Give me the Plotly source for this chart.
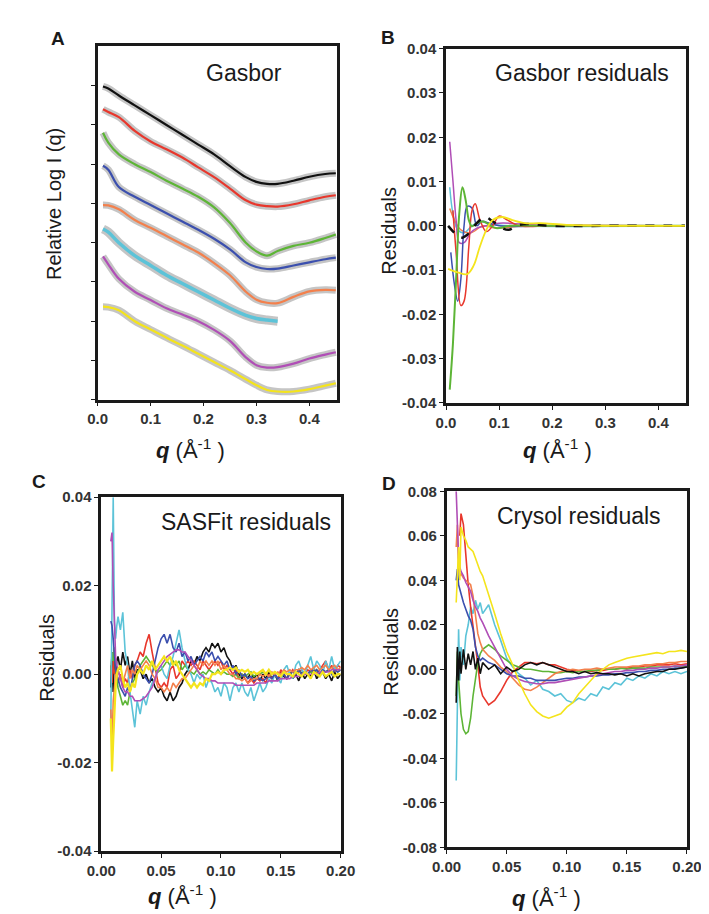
import plotly.graph_objects as go

# ---------------- data ----------------
# Panel A: relative log I(q) profiles (offset, arbitrary units)
a_q = [0.01, 0.02, 0.04, 0.07, 0.10, 0.13, 0.16, 0.19, 0.22, 0.25, 0.28, 0.30, 0.32, 0.34, 0.37, 0.40, 0.43, 0.45]
a_black = [7.98, 7.93, 7.75, 7.5, 7.25, 7.0, 6.75, 6.5, 6.25, 5.95, 5.67, 5.55, 5.5, 5.5, 5.58, 5.68, 5.75, 5.77]
a_red = [7.4, 7.33, 7.2, 6.85, 6.58, 6.38, 6.17, 5.92, 5.67, 5.38, 5.08, 4.97, 4.93, 4.92, 4.98, 5.08, 5.17, 5.21]
a_green = [6.8, 6.55, 6.25, 6.0, 5.8, 5.58, 5.38, 5.17, 4.9, 4.5, 4.0, 3.78, 3.67, 3.79, 3.92, 4.0, 4.12, 4.21]
a_blue = [5.96, 5.86, 5.42, 5.17, 4.96, 4.75, 4.54, 4.33, 4.1, 3.83, 3.5, 3.38, 3.33, 3.34, 3.42, 3.5, 3.58, 3.62]
a_orange = [4.96, 4.95, 4.85, 4.58, 4.38, 4.17, 3.96, 3.75, 3.48, 3.17, 2.75, 2.55, 2.47, 2.46, 2.62, 2.76, 2.8, 2.79]
a_cyan = [4.35, 4.27, 4.0, 3.67, 3.42, 3.17, 2.96, 2.75, 2.54, 2.33, 2.15, 2.07, 2.03, 2.0, None, None, None, None]
a_magenta = [3.65, 3.45, 3.08, 2.75, 2.54, 2.33, 2.17, 2.0, 1.78, 1.5, 1.08, 0.88, 0.82, 0.83, 0.92, 1.05, 1.15, 1.21]
a_yellow = [2.37, 2.36, 2.28, 2.0, 1.79, 1.58, 1.38, 1.17, 0.96, 0.75, 0.52, 0.37, 0.25, 0.21, 0.21, 0.27, 0.36, 0.42]

# Panel B: Gasbor residuals
b_q_green = [0.007, 0.013, 0.019, 0.025, 0.031, 0.037, 0.043, 0.049, 0.058, 0.070, 0.094, 0.120, 0.200, 0.300, 0.450]
b_green = [-0.037, -0.0267, -0.012, 0.0028, 0.0087, 0.0058, 0.0013, -0.0001, 0.0006, 0.001, -0.0005, 0.0, 0.0, 0.0, 0.0]
b_q_red = [0.013, 0.019, 0.028, 0.034, 0.043, 0.049, 0.055, 0.064, 0.076, 0.088, 0.100, 0.116, 0.137, 0.200, 0.450]
b_red = [0.0035, -0.006, -0.018, -0.017, -0.0046, 0.0035, 0.005, 0.0013, -0.0013, 0.0, 0.0022, 0.0013, 0.0, 0.0, 0.0]
b_q_blue = [0.009, 0.016, 0.022, 0.028, 0.034, 0.040, 0.049, 0.058, 0.067, 0.082, 0.100, 0.200, 0.450]
b_blue = [-0.006, -0.0134, -0.017, -0.012, 0.0, 0.0044, 0.004, 0.0, 0.001, 0.0006, 0.0, 0.0, 0.0]
b_q_magenta = [0.007, 0.013, 0.019, 0.025, 0.034, 0.046, 0.058, 0.076, 0.100, 0.200, 0.450]
b_magenta = [0.019, 0.0102, 0.0013, -0.0038, -0.0038, -0.0016, -0.0005, 0.0, 0.0006, 0.0, 0.0]
b_q_cyan = [0.007, 0.013, 0.022, 0.034, 0.049, 0.064, 0.082, 0.120, 0.450]
b_cyan = [0.0087, 0.0028, -0.0009, -0.0016, 0.0, 0.001, 0.0004, 0.0, 0.0]
b_q_orange = [0.007, 0.016, 0.028, 0.046, 0.070, 0.094, 0.150, 0.450]
b_orange = [0.0039, 0.0013, -0.0009, -0.0016, 0.0, -0.0005, 0.0, 0.0]
b_q_black = [0.004, 0.016, 0.028, 0.040, 0.058, 0.073, 0.088, 0.106, 0.118, 0.137, 0.155, 0.200, 0.300, 0.450]
b_black = [0.0, -0.0016, -0.0027, -0.002, 0.0006, 0.002, 0.001, -0.0005, -0.0009, 0.0002, 0.0004, 0.0, 0.0, 0.0]
b_q_yellow = [0.004, 0.022, 0.040, 0.052, 0.064, 0.076, 0.088, 0.106, 0.125, 0.149, 0.178, 0.227, 0.300, 0.450]
b_yellow = [-0.0097, -0.0105, -0.0109, -0.009, -0.0046, -0.0009, 0.0013, 0.002, 0.0013, 0.0006, 0.0006, 0.0002, 0.0, 0.0]

# Panel C: SASFit residuals (dense, noisy)
q_c = [0.008, 0.009, 0.010, 0.011, 0.012, 0.013, 0.014, 0.016, 0.018, 0.020, 0.022, 0.024, 0.026, 0.028, 0.030,
       0.0325, 0.035, 0.0375, 0.040, 0.0425, 0.045, 0.0475, 0.050, 0.0525, 0.055,
       0.0575, 0.060, 0.0625, 0.065, 0.0675, 0.070, 0.0725, 0.075, 0.0775, 0.080,
       0.0825, 0.085, 0.0875, 0.090, 0.0925, 0.095, 0.0975, 0.100, 0.1025, 0.105,
       0.1075, 0.110, 0.1125, 0.115, 0.1175, 0.120, 0.1225, 0.125, 0.1275, 0.130,
       0.1325, 0.135, 0.1375, 0.140, 0.1425, 0.145, 0.1475, 0.150, 0.1525, 0.155,
       0.1575, 0.160, 0.1625, 0.165, 0.1675, 0.170, 0.1725, 0.175, 0.1775, 0.180,
       0.1825, 0.185, 0.1875, 0.190, 0.1925, 0.195, 0.1975, 0.200]
c_black = [-0.003, 0.005, -0.004, 0.006, 0.000, 0.003, 0.004, 0.001, 0.005, 0.002, 0.004, 0.000, 0.003, -0.001, 0.001,
           0.001, -0.001, 0.000, -0.002, -0.001, -0.003, -0.004, -0.003, -0.005, -0.006,
           -0.004, -0.006, -0.005, -0.003, -0.002, 0.000, 0.001, 0.003, 0.002, 0.004,
           0.003, 0.005, 0.006, 0.005, 0.007, 0.006, 0.007, 0.005, 0.006, 0.004,
           0.003, 0.001, 0.002, 0.000, -0.001, 0.000, -0.001, 0.0005, -0.001, 0.000,
           -0.0015, 0.000, -0.001, 0.0005, -0.001, 0.000, -0.0015, 0.0005, -0.0005, -0.001,
           0.0005, -0.001, 0.000, -0.0015, 0.0005, -0.001, 0.000, -0.0005, 0.001, -0.001,
           0.000, 0.0005, -0.001, 0.000, -0.0015, 0.0005, -0.001, 0.000]
c_red = [0.002, -0.002, 0.003, 0.000, 0.001, -0.001, -0.002, 0.000, -0.003, -0.001, -0.002, 0.001, -0.001, 0.002, 0.003,
         0.005, 0.004, 0.007, 0.009, 0.005, 0.001, -0.002, -0.003, -0.002, -0.003,
         0.001, 0.002, -0.001, 0.000, 0.003, 0.002, 0.003, 0.002, 0.003, 0.002,
         0.001, 0.003, 0.002, 0.001, 0.002, 0.003, 0.002, 0.003, 0.001, 0.002,
         0.001, 0.000, 0.001, -0.001, 0.000, -0.001, -0.002, -0.001, -0.002, -0.001,
         -0.0015, -0.001, -0.002, 0.000, -0.001, 0.000, -0.001, 0.001, 0.000, -0.001,
         0.000, 0.001, 0.000, 0.0005, 0.001, 0.000, 0.001, 0.0005, 0.0015, 0.000,
         0.001, 0.002, 0.003, 0.001, 0.002, 0.0005, 0.002, 0.0015]
c_green = [0.000, 0.005, 0.003, 0.006, 0.001, -0.001, -0.003, -0.005, -0.007, -0.006, -0.007, -0.004, -0.002, -0.001, 0.000,
           0.002, 0.003, 0.004, 0.003, 0.002, 0.001, 0.0005, 0.001, 0.002, 0.003,
           0.002, 0.003, 0.002, 0.003, 0.001, 0.002, 0.001, 0.0005, 0.000, 0.001,
           0.000, 0.0005, 0.000, 0.001, 0.0005, 0.000, 0.001, 0.000, 0.0005, 0.000,
           0.000, -0.0005, 0.000, -0.001, 0.000, -0.0005, 0.000, 0.0005, -0.0005, 0.000,
           0.000, 0.0005, 0.000, -0.0005, 0.000, 0.0005, 0.000, 0.000, 0.0005, 0.000,
           0.000, 0.0005, 0.000, 0.001, 0.000, 0.0005, 0.000, 0.0005, 0.000, 0.001,
           0.000, 0.001, 0.0005, 0.001, 0.000, 0.001, 0.0005, 0.001]
c_blue = [0.012, 0.011, 0.008, 0.004, 0.001, 0.000, -0.001, -0.003, -0.004, -0.005, -0.003, -0.004, -0.001, 0.002, 0.003,
          0.002, 0.000, -0.001, -0.002, 0.000, 0.003, 0.006, 0.008, 0.009, 0.007,
          0.009, 0.006, 0.005, 0.007, 0.004, 0.005, 0.003, 0.004, 0.002, 0.003,
          0.004, 0.003, 0.005, 0.004, 0.005, 0.003, 0.004, 0.003, 0.002, 0.003,
          0.001, 0.002, 0.000, 0.001, -0.0005, 0.000, -0.001, -0.0005, -0.0015, -0.001,
          -0.001, -0.0015, -0.001, -0.0005, -0.001, 0.000, -0.001, -0.0005, 0.000, -0.001,
          0.000, 0.0005, 0.000, 0.001, 0.000, 0.0005, 0.000, 0.001, 0.0005, 0.001,
          0.000, 0.001, 0.0005, 0.001, 0.000, 0.001, 0.0005, 0.001]
c_orange = [-0.008, -0.016, -0.006, -0.002, 0.000, -0.001, 0.001, -0.001, -0.002, 0.000, 0.002, -0.001, 0.001, 0.000, 0.002,
            0.001, 0.002, 0.003, 0.002, 0.000, -0.001, -0.003, -0.003, -0.004, -0.003,
            -0.004, -0.002, -0.003, -0.002, -0.001, -0.001, 0.000, 0.001, 0.002, 0.001,
            0.003, 0.002, 0.003, 0.002, 0.003, 0.002, 0.003, 0.001, 0.002, 0.001,
            0.000, 0.000, -0.001, -0.001, -0.0015, -0.001, -0.002, -0.0015, -0.001, -0.001,
            0.000, -0.0005, 0.000, -0.0005, 0.0005, 0.000, 0.0005, 0.000, 0.001, 0.0005,
            0.001, 0.0005, 0.001, 0.001, 0.0015, 0.001, 0.002, 0.001, 0.0015, 0.002,
            0.001, 0.0015, 0.002, 0.001, 0.0015, 0.002, 0.001, 0.0015]
c_cyan = [-0.010, 0.020, 0.040, 0.012, 0.008, 0.011, 0.013, 0.010, 0.014, 0.005, 0.002, -0.004, -0.008, -0.012, -0.006,
          -0.009, -0.005, -0.007, -0.004, -0.002, -0.001, 0.001, 0.002, 0.000, -0.001,
          0.002, 0.004, 0.007, 0.010, 0.006, 0.003, 0.001, 0.000, -0.002, 0.000,
          -0.001, 0.000, -0.003, -0.001, -0.002, -0.004, -0.003, -0.005, -0.002, -0.003,
          -0.006, -0.003, -0.002, -0.004, -0.002, -0.004, -0.005, -0.003, -0.006, -0.004,
          -0.002, -0.004, -0.003, -0.001, -0.002, 0.000, -0.001, -0.002, 0.001, 0.002,
          0.000, -0.001, 0.002, 0.003, 0.001, 0.000, 0.002, 0.004, 0.001, 0.003,
          0.002, 0.000, 0.003, 0.001, 0.004, 0.001, 0.002, 0.003]
c_magenta = [0.030, 0.032, 0.020, 0.010, 0.004, 0.002, 0.001, -0.001, -0.003, -0.004, -0.004, -0.005, -0.005, -0.006, -0.006,
             -0.006, -0.0055, -0.005, -0.004, -0.003, -0.001, 0.001, 0.002, 0.003, 0.004,
             0.0045, 0.005, 0.0055, 0.0055, 0.005, 0.005, 0.004, 0.003, 0.002, 0.001,
             0.000, -0.0005, -0.001, -0.001, -0.0015, -0.0015, -0.002, -0.002, -0.002, -0.002,
             -0.002, -0.002, -0.0025, -0.0025, -0.0025, -0.0025, -0.0025, -0.0025, -0.0025, -0.002,
             -0.002, -0.002, -0.002, -0.0015, -0.0015, -0.0015, -0.0015, -0.001, -0.001, -0.001,
             -0.001, -0.0005, -0.0005, -0.0005, 0.000, 0.000, 0.000, 0.000, 0.000, 0.000,
             0.0005, 0.0005, 0.0005, 0.0005, 0.001, 0.001, 0.001, 0.001]
c_yellow = [-0.010, -0.022, -0.015, -0.008, -0.003, 0.000, 0.001, 0.002, -0.001, -0.003, -0.002, -0.004, -0.002, -0.003, 0.000,
            0.001, 0.000, 0.002, 0.001, 0.003, 0.001, 0.002, 0.003, 0.004, 0.003,
            0.004, 0.002, 0.003, 0.001, 0.000, -0.001, -0.002, -0.003, -0.002, -0.003,
            -0.002, -0.0025, -0.001, -0.0015, 0.000, 0.000, 0.0005, 0.000, 0.001, 0.001,
            0.0015, 0.001, 0.0015, 0.0005, 0.001, 0.0005, 0.001, 0.000, 0.0005, 0.000,
            0.0005, 0.001, 0.000, 0.001, 0.000, 0.0005, 0.000, -0.0005, 0.0005, 0.000,
            0.000, -0.0005, 0.0005, 0.000, -0.0005, 0.0005, 0.000, -0.001, 0.0005, 0.000,
            -0.0005, 0.0005, -0.0005, 0.000, 0.0005, -0.0005, 0.000, 0.000]

# Panel D: Crysol residuals
q_d = [0.008, 0.009, 0.010, 0.011, 0.012, 0.014, 0.016, 0.018, 0.020, 0.022, 0.024, 0.026, 0.028, 0.030,
       0.035, 0.040, 0.045, 0.050, 0.055, 0.060, 0.065, 0.070, 0.075, 0.080,
       0.085, 0.090, 0.095, 0.100, 0.105, 0.110, 0.115, 0.120, 0.125, 0.130,
       0.135, 0.140, 0.145, 0.150, 0.155, 0.160, 0.165, 0.170, 0.175, 0.180,
       0.185, 0.190, 0.195, 0.200]
d_black = [-0.015, 0.010, -0.005, 0.008, -0.002, 0.009, 0.000, 0.007, 0.002, 0.008, 0.000, 0.005, -0.002, 0.003,
           0.000, 0.002, -0.002, 0.001, -0.001, 0.000, 0.002, 0.003, 0.002, 0.003,
           0.002, 0.001, 0.000, -0.001, -0.001, -0.002, -0.001, -0.002, -0.0015, -0.002,
           -0.002, -0.0025, -0.002, -0.003, -0.002, -0.003, -0.002, -0.0015, -0.001, -0.001,
           0.000, 0.000, 0.0005, 0.001]
d_red = [None, None, None, 0.060, 0.070, 0.065, 0.050, 0.038, 0.028, 0.020, 0.012, 0.002, -0.008, -0.012,
         -0.016, -0.014, -0.010, -0.005, -0.001, 0.001, 0.003, 0.003, 0.0025, 0.003,
         0.002, 0.002, 0.001, 0.000, -0.0005, -0.001, -0.001, -0.001, -0.0005, -0.0005,
         0.000, 0.000, 0.0005, 0.0005, 0.001, 0.001, 0.0015, 0.0015, 0.002, 0.002,
         0.002, 0.0025, 0.002, 0.0025]
d_green = [-0.012, 0.008, -0.005, -0.015, -0.020, -0.027, -0.029, -0.028, -0.022, -0.012, -0.004, 0.003, 0.007, 0.009,
           0.011, 0.009, 0.006, 0.004, 0.002, 0.001, 0.000, 0.000, -0.0005, -0.001,
           -0.001, -0.0015, -0.0015, -0.001, -0.0015, -0.001, -0.001, -0.0005, -0.0005, 0.000,
           0.000, 0.000, 0.0005, 0.000, 0.0005, 0.0005, 0.0005, 0.001, 0.001, 0.001,
           0.001, 0.0015, 0.001, 0.0015]
d_blue = [0.040, 0.045, 0.038, 0.036, 0.033, 0.030, 0.027, 0.024, 0.022, 0.018, 0.010, 0.006, 0.004, 0.005,
          0.003, 0.002, 0.000, -0.002, -0.003, -0.003, -0.004, -0.004, -0.005, -0.005,
          -0.005, -0.005, -0.0045, -0.004, -0.004, -0.0035, -0.0035, -0.003, -0.003, -0.0025,
          -0.0025, -0.002, -0.002, -0.0015, -0.0015, -0.001, -0.001, -0.0005, -0.0005, 0.000,
          0.000, 0.0005, 0.0005, 0.001]
d_orange = [0.055, 0.065, 0.045, 0.042, 0.043, 0.041, 0.040, 0.039, 0.038, 0.033, 0.025, 0.016, 0.012, 0.009,
            0.006, 0.004, 0.001, -0.001, -0.004, -0.007, -0.009, -0.0095, -0.008, -0.006,
            -0.004, -0.002, -0.001, -0.0005, 0.000, -0.0005, 0.000, 0.000, 0.0005, 0.000,
            0.0005, 0.001, 0.001, 0.001, 0.0015, 0.0015, 0.002, 0.002, 0.0025, 0.0025,
            0.003, 0.003, 0.0035, 0.0035]
d_cyan = [-0.050, -0.020, 0.018, -0.005, 0.010, 0.002, 0.015, 0.020, 0.028, 0.025, 0.031, 0.027, 0.030, 0.025,
          0.029, 0.020, 0.013, 0.005, 0.001, -0.002, -0.004, -0.007, -0.005, -0.009,
          -0.010, -0.012, -0.011, -0.014, -0.015, -0.013, -0.014, -0.011, -0.012, -0.008,
          -0.009, -0.006, -0.007, -0.004, -0.005, -0.003, -0.004, -0.002, -0.003, -0.001,
          -0.002, -0.001, -0.002, -0.001]
d_magenta = [0.080, 0.062, 0.050, 0.046, 0.044, 0.042, 0.039, 0.037, 0.035, 0.031, 0.028, 0.026, 0.023, 0.021,
             0.015, 0.010, 0.005, 0.000, -0.003, -0.0045, -0.0055, -0.006, -0.0065, -0.0065,
             -0.006, -0.006, -0.0055, -0.005, -0.0045, -0.004, -0.0035, -0.003, -0.0025, -0.002,
             -0.0015, -0.001, -0.001, -0.0005, -0.0005, 0.000, 0.000, 0.0005, 0.0005, 0.001,
             0.001, 0.0015, 0.0015, 0.002]
d_yellow = [0.030, 0.045, 0.055, 0.040, 0.064, 0.060, 0.058, 0.055, 0.054, 0.053, 0.050, 0.047, 0.044, 0.042,
            0.034, 0.025, 0.016, 0.008, 0.002, -0.005, -0.011, -0.016, -0.019, -0.021,
            -0.022, -0.021, -0.020, -0.017, -0.015, -0.011, -0.008, -0.005, -0.002, 0.000,
            0.002, 0.003, 0.004, 0.005, 0.0055, 0.006, 0.0065, 0.007, 0.0075, 0.007,
            0.008, 0.008, 0.0085, 0.008]

# tick labels
ticks_a_x = [0.0, 0.1, 0.2, 0.3, 0.4]
ticks_a_x_text = ["0.0", "0.1", "0.2", "0.3", "0.4"]
ticks_a_y = [0, 1, 2, 3, 4, 5, 6, 7, 8]
ticks_b_y = [-0.04, -0.03, -0.02, -0.01, 0.0, 0.01, 0.02, 0.03, 0.04]
ticks_b_y_text = ["-0.04", "-0.03", "-0.02", "-0.01", "0.00", "0.01", "0.02", "0.03", "0.04"]
ticks_cd_x = [0.0, 0.05, 0.10, 0.15, 0.20]
ticks_cd_x_text = ["0.00", "0.05", "0.10", "0.15", "0.20"]
ticks_c_y = [-0.04, -0.02, 0.0, 0.02, 0.04]
ticks_c_y_text = ["-0.04", "-0.02", "0.00", "0.02", "0.04"]
ticks_d_y = [-0.08, -0.06, -0.04, -0.02, 0.0, 0.02, 0.04, 0.06, 0.08]
ticks_d_y_text = ["-0.08", "-0.06", "-0.04", "-0.02", "0.00", "0.02", "0.04", "0.06", "0.08"]

COL = {
    "black": "#111111",
    "red": "#e8372c",
    "green": "#5db536",
    "blue": "#3b4fae",
    "orange": "#f3804c",
    "cyan": "#5cc3d8",
    "magenta": "#b04eb6",
    "yellow": "#f4e41c",
}

FONT = "Liberation Sans"
W, H = 709, 914

fig = go.Figure()


def line(q, v, color, ax, width=1.5, dash=None, shape="linear"):
    fig.add_trace(go.Scatter(
        x=q, y=v, mode="lines", xaxis="x" + ax, yaxis="y" + ax,
        line=dict(color=color, width=width, dash=dash, shape=shape),
        showlegend=False, hoverinfo="skip", connectgaps=False,
    ))


# Panel A: grey halo + coloured profile
a_curves = [(a_black, "black"), (a_red, "red"), (a_green, "green"), (a_blue, "blue"),
            (a_orange, "orange"), (a_cyan, "cyan"), (a_magenta, "magenta"), (a_yellow, "yellow")]
for vals, c in a_curves:
    halo_w = 9 if c == "cyan" else 7
    line(a_q, vals, "rgba(150,150,150,0.55)", "", width=halo_w, shape="spline")
    line(a_q, vals, COL[c], "", width=2.2 if c != "cyan" else 3.5, shape="spline")

# Panel B
line(b_q_cyan, b_cyan, COL["cyan"], "2", shape="spline")
line(b_q_orange, b_orange, COL["orange"], "2", shape="spline")
line(b_q_magenta, b_magenta, COL["magenta"], "2", shape="spline")
line(b_q_blue, b_blue, COL["blue"], "2", shape="spline")
line(b_q_red, b_red, COL["red"], "2", shape="spline")
line(b_q_green, b_green, COL["green"], "2", width=2, shape="spline")
line(b_q_black, b_black, COL["black"], "2", width=2.5, dash="dash", shape="spline")
line(b_q_yellow, b_yellow, COL["yellow"], "2", width=1.8, shape="spline")

# Panel C
for vals, c in [(c_black, "black"), (c_red, "red"), (c_green, "green"), (c_cyan, "cyan"),
                (c_blue, "blue"), (c_orange, "orange"), (c_magenta, "magenta"), (c_yellow, "yellow")]:
    line(q_c, vals, COL[c], "3", width=2.2 if c == "yellow" else 1.6)

# Panel D
for vals, c in [(d_cyan, "cyan"), (d_red, "red"), (d_green, "green"), (d_orange, "orange"),
                (d_blue, "blue"), (d_magenta, "magenta"), (d_yellow, "yellow"), (d_black, "black")]:
    line(q_d, vals, COL[c], "4", width=1.6)


def xd(a, b):
    return [a / W, b / W]


def yd(top, bottom):
    return [1 - bottom / H, 1 - top / H]


base = dict(
    showline=True, linewidth=2.5, linecolor="#1a1a1a", mirror=True,
    ticks="outside", ticklen=4, tickwidth=1.2, tickcolor="#1a1a1a",
    showgrid=False, zeroline=False,
    tickfont=dict(family=FONT, size=15, color="#333333", weight="bold"),
)

fig.update_layout(
    width=W, height=H,
    margin=dict(l=0, r=0, t=0, b=0),
    paper_bgcolor="white", plot_bgcolor="white",
    showlegend=False,
    xaxis=dict(base, domain=xd(78, 328.3), range=[0, 0.453], anchor="y",
               tickvals=ticks_a_x, ticktext=ticks_a_x_text),
    yaxis=dict(base, domain=yd(30, 390), range=[0, 9], anchor="x",
               tickvals=ticks_a_y, showticklabels=False),
    xaxis2=dict(base, domain=xd(441.7, 692.3), range=[0, 0.452], anchor="y2",
                tickvals=ticks_a_x, ticktext=ticks_a_x_text),
    yaxis2=dict(base, domain=yd(32.3, 393.3), range=[-0.04, 0.04], anchor="x2",
                tickvals=ticks_b_y, ticktext=ticks_b_y_text),
    xaxis3=dict(base, domain=xd(81.7, 331.7), range=[0, 0.2], anchor="y3",
                tickvals=ticks_cd_x, ticktext=ticks_cd_x_text),
    yaxis3=dict(base, domain=yd(489.3, 850), range=[-0.04, 0.04], anchor="x3",
                tickvals=ticks_c_y, ticktext=ticks_c_y_text),
    xaxis4=dict(base, domain=xd(442.3, 693.3), range=[0, 0.2], anchor="y4",
                tickvals=ticks_cd_x, ticktext=ticks_cd_x_text),
    yaxis4=dict(base, domain=yd(483.3, 846), range=[-0.08, 0.08], anchor="x4",
                tickvals=ticks_d_y, ticktext=ticks_d_y_text),
)


def note(x, y, text, size, bold=False, angle=0, color="#1a1a1a"):
    fig.add_annotation(
        x=x / W, y=1 - y / H, xref="paper", yref="paper",
        text=text, showarrow=False, textangle=angle,
        xanchor="center", yanchor="middle",
        font=dict(family=FONT, size=size, color=color, weight="bold" if bold else "normal"),
    )


# panel letters
note(37, 22, "A", 19, bold=True)
note(381, 21, "B", 19, bold=True)
note(17, 473, "C", 19, bold=True)
note(382, 475, "D", 19, bold=True)

# in-plot titles
note(231, 57, "Gasbor", 23)
note(584, 57, "Gasbor residuals", 23)
note(233, 515, "SASFit residuals", 23)
note(581, 508, "Crysol residuals", 23)

# axis titles
qlabel = "<b><i>q</i></b> (Å<sup>-1</sup> )"
note(175, 440, qlabel, 22)
note(558, 440, qlabel, 22)
note(167, 895, qlabel, 22)
note(547, 897, qlabel, 22)
note(33, 191, "Relative Log I (q)", 20, angle=-90)
note(382, 218, "Residuals", 20, angle=-90)
note(25, 653, "Residuals", 20, angle=-90)
note(384, 647, "Residuals", 20, angle=-90)

fig.write_html("out.html")
